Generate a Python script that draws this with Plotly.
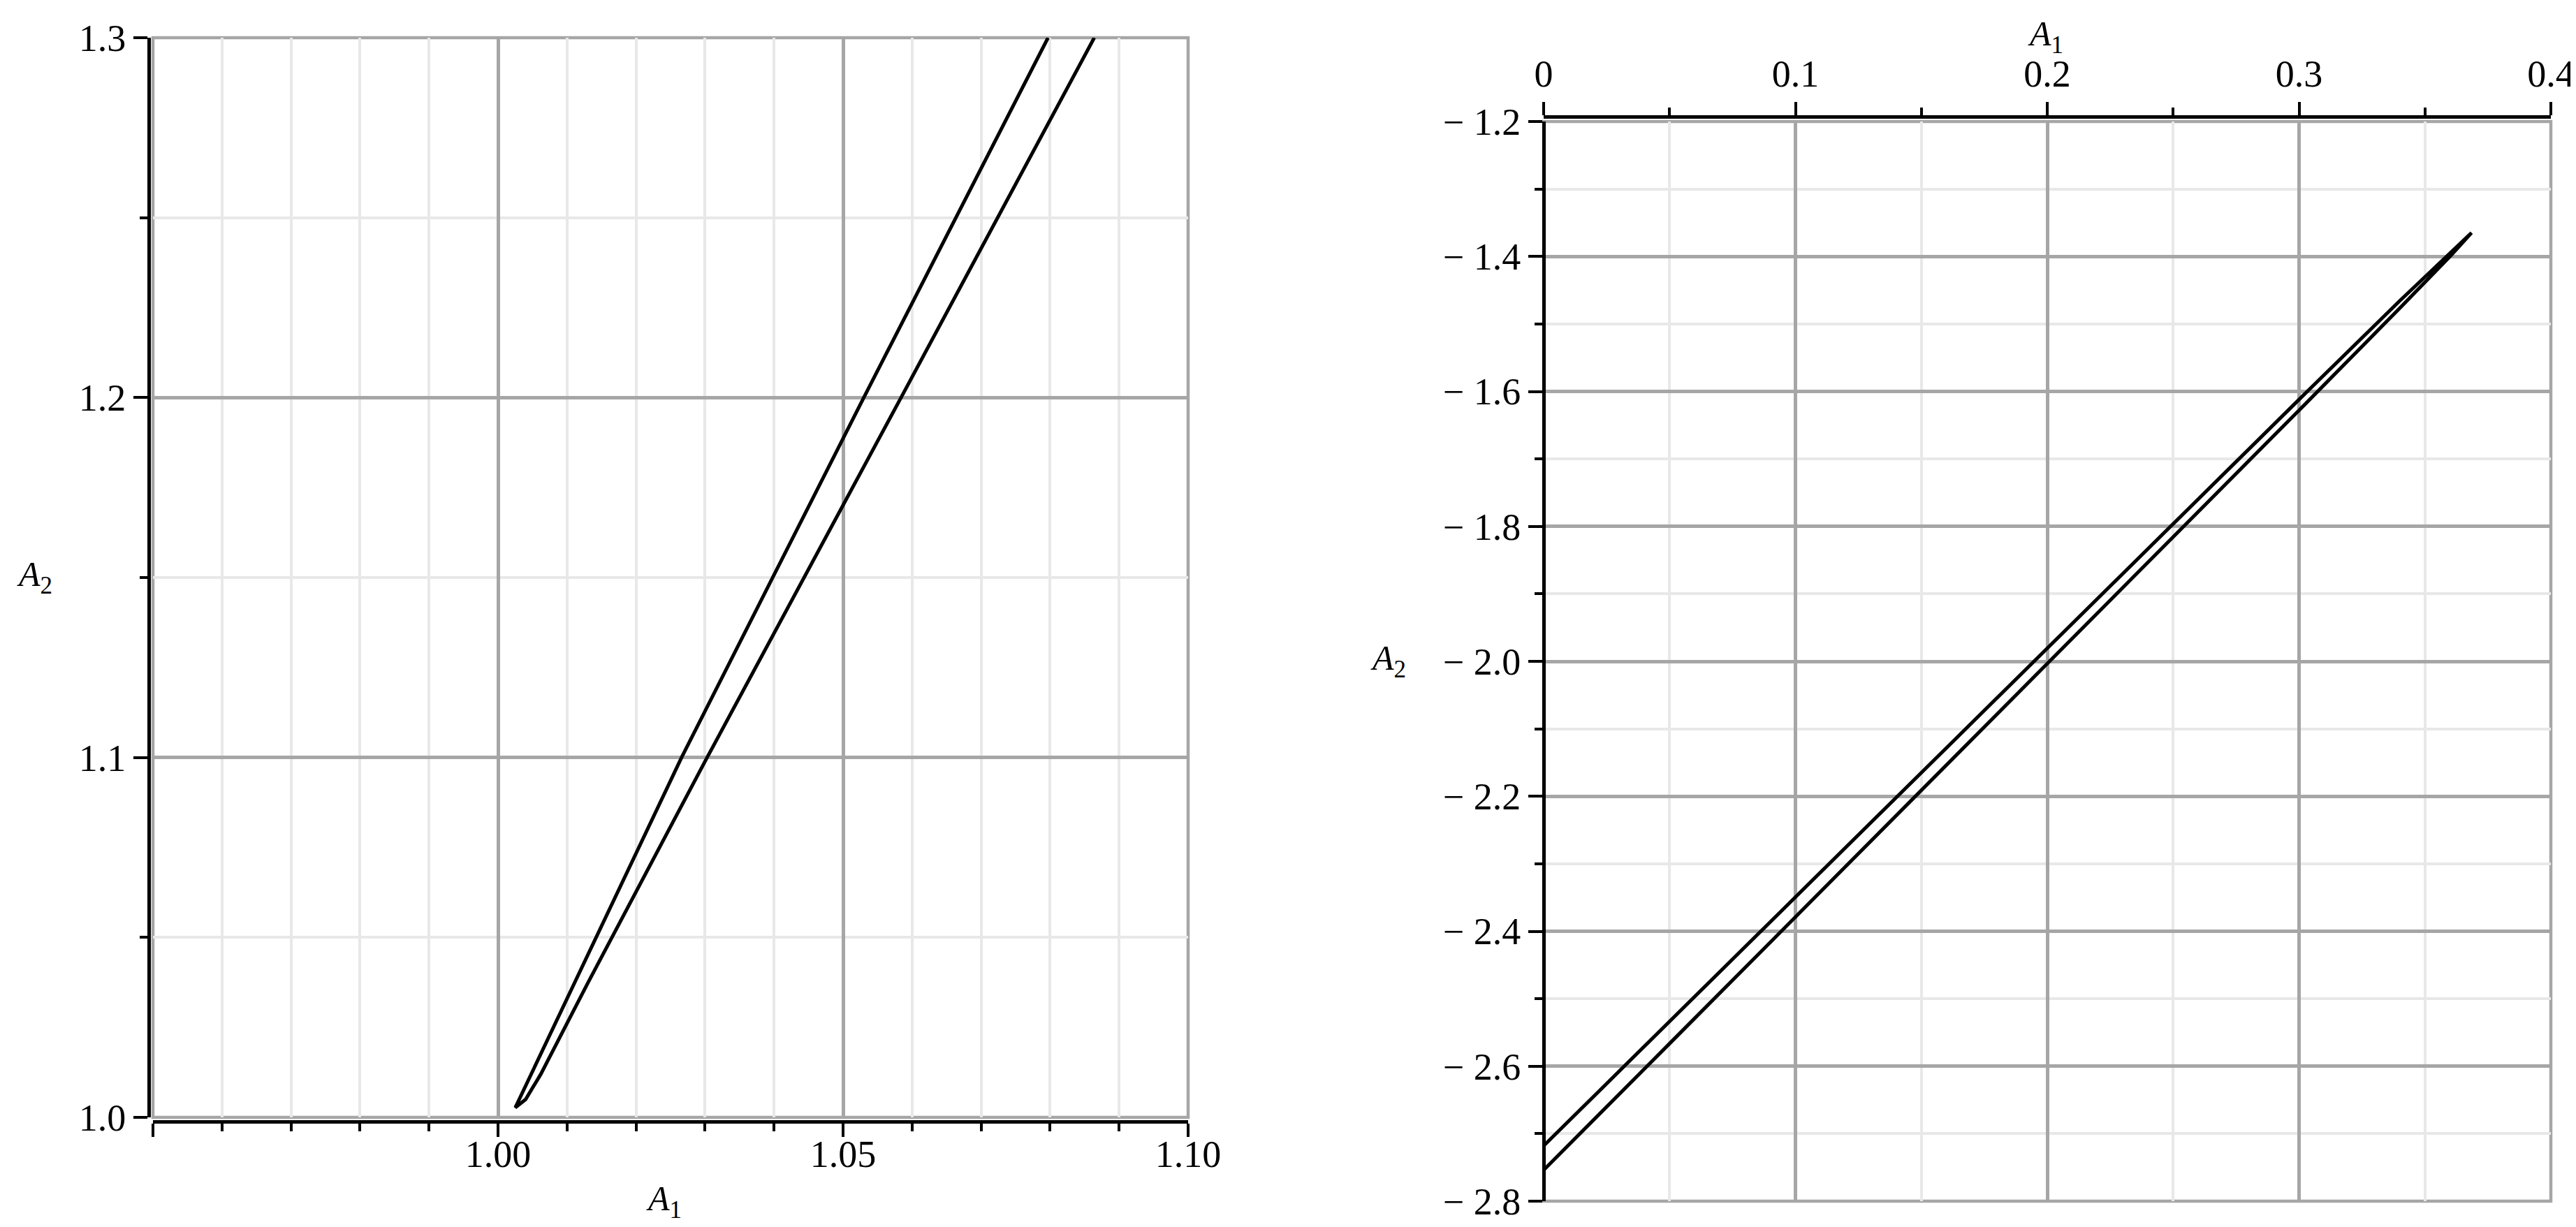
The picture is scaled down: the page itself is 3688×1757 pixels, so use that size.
import plotly.graph_objects as go

# ---------------- data ----------------
# left panel: closed loop (A1, A2)
left_a1 = [1.0797, 1.0530, 1.0266, 1.0145, 1.0030, 1.0025,
           1.0040, 1.0062, 1.0130, 1.0303, 1.0584, 1.0864]
left_a2 = [1.30, 1.20, 1.10, 1.0513, 1.0047, 1.0027,
           1.0050, 1.0120, 1.0373, 1.10, 1.20, 1.30]

# right panel: closed loop (A1, A2)
right_a1 = [0.0, 0.05, 0.10, 0.15, 0.20, 0.25, 0.30, 0.34, 0.36, 0.3685,
            0.36, 0.34, 0.30, 0.25, 0.20, 0.15, 0.10, 0.05, 0.0]
right_a2 = [-2.718, -2.5335, -2.349, -2.1645, -1.9805, -1.796, -1.612, -1.4657, -1.3938, -1.365,
            -1.3998, -1.4767, -1.628, -1.816, -2.0035, -2.1915, -2.379, -2.5665, -2.754]

# ticks
left_x_ticks = [0.95, 1.00, 1.05, 1.10]
left_x_labels = ["", "1.00", "1.05", "1.10"]
left_y_ticks = [1.0, 1.1, 1.2, 1.3]
left_y_labels = ["1.0", "1.1", "1.2", "1.3"]
right_x_ticks = [0.0, 0.1, 0.2, 0.3, 0.4]
right_x_labels = ["0", "0.1", "0.2", "0.3", "0.4"]
right_y_ticks = [-2.8, -2.6, -2.4, -2.2, -2.0, -1.8, -1.6, -1.4, -1.2]
right_y_labels = ["\u2212 2.8", "\u2212 2.6", "\u2212 2.4", "\u2212 2.2", "\u2212 2.0",
                  "\u2212 1.8", "\u2212 1.6", "\u2212 1.4", "\u2212 1.2"]

# ---------------- layout constants ----------------
W, H = 3688, 1757
FONT = "Liberation Serif, Times New Roman, serif"
MAJOR_GRID = "#a6a6a6"
MINOR_GRID = "#e8e8e8"

tickfont = dict(family=FONT, size=54, color="black")


def px_x(p):
    return p / W


def px_y(p):
    return 1 - p / H


fig = go.Figure()
fig.add_trace(go.Scatter(x=left_a1, y=left_a2, mode="lines",
                         line=dict(color="black", width=5),
                         xaxis="x", yaxis="y", showlegend=False, hoverinfo="skip"))
fig.add_trace(go.Scatter(x=right_a1, y=right_a2, mode="lines",
                         line=dict(color="black", width=5),
                         xaxis="x2", yaxis="y2", showlegend=False, hoverinfo="skip"))


def axis(domain, rng, position, side, tickvals, ticktext, minor_dtick, minor_tick0,
         ticklen=19, standoff=0):
    return dict(
        domain=domain, range=rng, anchor="free", position=position, side=side,
        showline=True, linecolor="black", linewidth=5,
        ticks="outside", ticklen=ticklen, tickwidth=4, tickcolor="black",
        tickmode="array", tickvals=tickvals, ticktext=ticktext, tickfont=tickfont,
        ticklabelstandoff=standoff,
        showgrid=True, gridcolor=MAJOR_GRID, gridwidth=4.5, zeroline=False,
        minor=dict(tickmode="linear", tick0=minor_tick0, dtick=minor_dtick,
                   ticks="outside", ticklen=11, tickwidth=4, tickcolor="black",
                   showgrid=True, gridcolor=MINOR_GRID, gridwidth=4),
        fixedrange=True, automargin=False,
    )


left_xdom = [px_x(211), px_x(1693)]
left_ydom = [px_y(1592), px_y(46)]
right_xdom = [px_x(2202), px_x(3644)]
right_ydom = [px_y(1712), px_y(166)]

title_font = dict(family=FONT, size=50, color="black")

fig.update_layout(
    width=W, height=H, autosize=False,
    margin=dict(l=0, r=0, t=0, b=0),
    paper_bgcolor="white", plot_bgcolor="white",
    showlegend=False,
    xaxis=axis(left_xdom, [0.95, 1.10], px_y(1598), "bottom",
               left_x_ticks, left_x_labels, 0.01, 0.95, standoff=-22),
    yaxis=axis(left_ydom, [1.0, 1.3], px_x(205), "left",
               left_y_ticks, left_y_labels, 0.05, 1.0, ticklen=20),
    xaxis2=axis(right_xdom, [0.0, 0.4], px_y(159), "top",
                right_x_ticks, right_x_labels, 0.05, 0.0),
    yaxis2=axis(right_ydom, [-2.8, -1.2], px_x(2202), "left",
                right_y_ticks, right_y_labels, 0.1, -2.8, ticklen=20),
    shapes=[
        dict(type="rect", xref="x domain", yref="y domain", x0=0, x1=1, y0=0, y1=1,
             line=dict(color=MAJOR_GRID, width=4.5), layer="below"),
        dict(type="rect", xref="x2 domain", yref="y2 domain", x0=0, x1=1, y0=0, y1=1,
             line=dict(color=MAJOR_GRID, width=4.5), layer="below"),
    ],
    annotations=[
        dict(text="<i>A</i><sub>1</sub>", xref="paper", yref="paper",
             x=px_x(942), y=px_y(1712), xanchor="center", yanchor="middle",
             showarrow=False, font=title_font),
        dict(text="<i>A</i><sub>2</sub>", xref="paper", yref="paper",
             x=px_x(14), y=px_y(818), xanchor="left", yanchor="middle",
             showarrow=False, font=title_font),
        dict(text="<i>A</i><sub>1</sub>", xref="paper", yref="paper",
             x=px_x(2920), y=px_y(44), xanchor="center", yanchor="middle",
             showarrow=False, font=title_font),
        dict(text="<i>A</i><sub>2</sub>", xref="paper", yref="paper",
             x=px_x(1952), y=px_y(938), xanchor="left", yanchor="middle",
             showarrow=False, font=title_font),
    ],
)

fig.write_html("out.html")
